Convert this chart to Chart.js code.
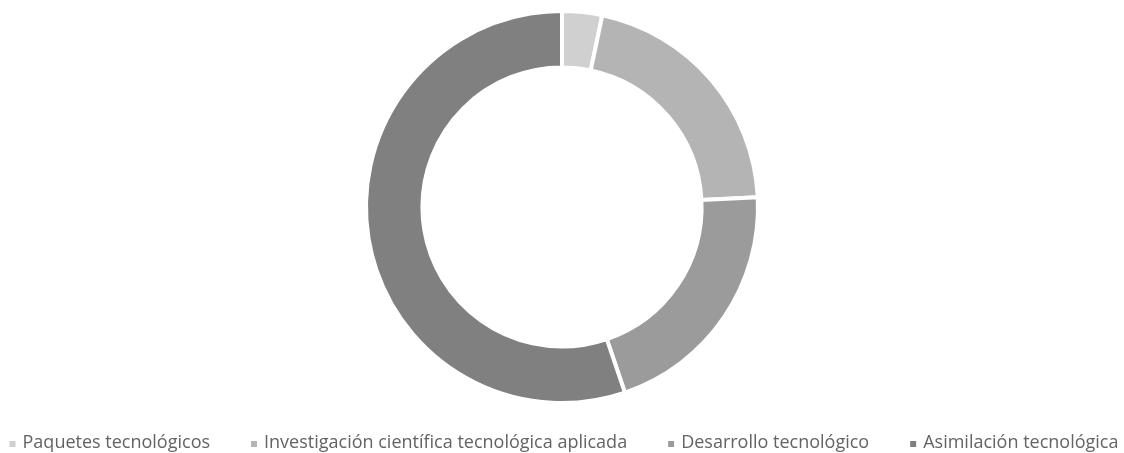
<!DOCTYPE html>
<html>
<head>
<meta charset="utf-8">
<script src="https://cdn.jsdelivr.net/npm/chart.js@4"></script>
<style>
  html, body { margin: 0; padding: 0; background: #fff; }
  #wrap { width: 1124px; height: 453px; position: relative; }
</style>
</head>
<body>
<div id="wrap"><canvas id="donutChart"></canvas></div>
<script>
// Data
const categories = ['Paquetes tecnológicos', 'Investigación científica tecnológica aplicada', 'Desarrollo tecnológico', 'Asimilación tecnológica'];
const shares = [3.3, 20.9, 20.6, 55.2];
const sliceColors = ['#d0d0d0', '#b4b4b4', '#9b9b9b', '#808080'];

Chart.defaults.font.family = "'Open Sans', sans-serif";
Chart.defaults.color = '#595959';

// single-row legend under the ring (the built-in one wraps at this spacing)
const bottomLegend = {
    id: 'bottomLegend',
    afterDraw(chart) {
        const c = chart.ctx;
        const colors = chart.data.datasets[0].backgroundColor;
        const labels = chart.data.labels;
        const box = 7, boxGap = 6, itemGap = 41;
        c.save();
        c.font = "18px 'Open Sans', sans-serif";
        c.textBaseline = 'alphabetic';
        c.textAlign = 'left';
        const widths = labels.map(t => c.measureText(t).width);
        const total = widths.reduce((s, w) => s + box + boxGap + w, 0) + itemGap * (labels.length - 1);
        let x = (chart.width - total) / 2 + 2;
        const baseline = 448;
        labels.forEach((t, i) => {
            c.fillStyle = colors[i];
            c.fillRect(x, baseline - 7, box - 1, box - 1);
            c.fillStyle = '#636363';
            c.fillText(t, x + box + boxGap, baseline);
            x += box + boxGap + widths[i] + itemGap;
        });
        c.restore();
    }
};

const ctx = document.getElementById('donutChart').getContext('2d');
new Chart(ctx, {
    type: 'doughnut',
    data: {
        labels: categories,
        datasets: [{
            data: shares,
            backgroundColor: sliceColors,
            borderColor: '#ffffff',
            borderWidth: 4,
            hoverOffset: 0
        }]
    },
    options: {
        responsive: true,
        maintainAspectRatio: false,
        animation: false,
        radius: 196,
        cutout: 146,
        layout: { padding: { top: 0, bottom: 39 } },
        plugins: {
            legend: { display: false },
            tooltip: { enabled: false }
        }
    },
    plugins: [bottomLegend]
});
</script>
</body>
</html>
